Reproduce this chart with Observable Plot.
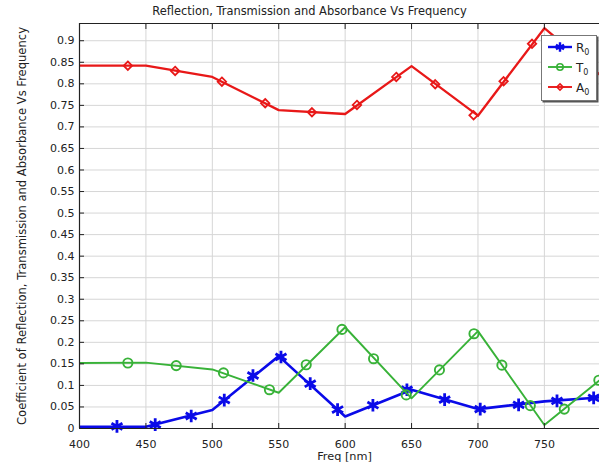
<!DOCTYPE html>
<html>
<head>
<meta charset="utf-8">
<script src="https://cdn.jsdelivr.net/npm/d3@7"></script>
<script src="https://cdn.jsdelivr.net/npm/@observablehq/plot@0.6"></script>
<style>
  html, body { margin: 0; padding: 0; background: #fff; overflow: hidden; }
  #chart { position: relative; width: 599px; height: 466px; font-family: "DejaVu Sans", sans-serif; }
  #legend { position: absolute; left: 541px; top: 35px; }
</style>
</head>
<body>
<div id="chart"></div>
<script>
// Simulated spectra, sampled every 50 nm
const freq = [400, 450, 500, 550, 600, 650, 700, 750, 800];
const reflection = [0.004, 0.004, 0.043, 0.168, 0.028, 0.090, 0.045, 0.063, 0.074];
const transmission = [0.152, 0.153, 0.137, 0.083, 0.235, 0.070, 0.226, 0.008, 0.133];
const absorbance = [0.842, 0.842, 0.816, 0.739, 0.730, 0.841, 0.726, 0.929, 0.800];

// Marker positions along each curve
const reflMarkFreq = [428.2, 457, 484.1, 509, 530.6, 551.7, 573.7, 594.3, 620.9, 646.5, 674.9, 701.7, 730.6, 759.5, 787.1];
const reflMarkVal = [0.005, 0.009, 0.029, 0.066, 0.123, 0.166, 0.104, 0.044, 0.054, 0.090, 0.067, 0.045, 0.055, 0.064, 0.071];
const transMarkFreq = [436.4, 472.8, 508.4, 543, 570.7, 597.6, 621.4, 646, 671, 697, 718, 739.4, 765, 791];
const transMarkVal = [0.152, 0.146, 0.129, 0.090, 0.148, 0.230, 0.162, 0.078, 0.136, 0.220, 0.147, 0.053, 0.045, 0.112];
const absMarkFreq = [436.4, 472, 507.2, 539.8, 575, 608.9, 638.5, 667.8, 696.7, 719.3, 740.7];
const absMarkVal = [0.842, 0.830, 0.805, 0.755, 0.734, 0.751, 0.816, 0.799, 0.727, 0.806, 0.893];

// Axes
const xDomain = [400, 791.5];
const yDomain = [0, 0.94];
const xTicks = [400, 450, 500, 550, 600, 650, 700, 750];
const yTicks = [0, 0.05, 0.1, 0.15, 0.2, 0.25, 0.3, 0.35, 0.4, 0.45, 0.5, 0.55, 0.6, 0.65, 0.7, 0.75, 0.8, 0.85, 0.9];

const title = "Reflection, Transmission and Absorbance Vs Frequency";
const xLabel = "Freq [nm]";
const yLabel = "Coefficient of Reflection, Transmission and Absorbance Vs Frequency";

const seriesNames = ["R", "T", "A"];
const colors = {R: "#0a0ae8", T: "#38b238", A: "#e81818"};

const rows = (f, v) => f.map((x, i) => ({freq: x, value: v[i]}));

const ink = "#222";

const chart = Plot.plot({
  width: 599,
  height: 466,
  marginLeft: 79,
  marginRight: 0,
  marginTop: 23,
  marginBottom: 38,
  style: {fontFamily: "DejaVu Sans, sans-serif", fontSize: "11px", color: ink, background: "#fff", overflow: "visible"},
  x: {domain: xDomain},
  y: {domain: yDomain},
  marks: [
    Plot.gridX(xTicks, {stroke: "#d6d6d6", strokeOpacity: 1}),
    Plot.gridY(yTicks, {stroke: "#d6d6d6", strokeOpacity: 1}),

    Plot.line(rows(freq, reflection), {x: "freq", y: "value", stroke: colors.R, strokeWidth: 2.6, clip: true}),
    Plot.dot(rows(reflMarkFreq, reflMarkVal), {x: "freq", y: "value", symbol: "asterisk", r: 6, stroke: colors.R, strokeWidth: 2.8}),

    Plot.line(rows(freq, transmission), {x: "freq", y: "value", stroke: colors.T, strokeWidth: 1.9, clip: true}),
    Plot.dot(rows(transMarkFreq, transMarkVal), {x: "freq", y: "value", symbol: "circle", r: 4.6, stroke: colors.T, strokeWidth: 1.9, fill: "none"}),

    Plot.line(rows(freq, absorbance), {x: "freq", y: "value", stroke: colors.A, strokeWidth: 2.3, clip: true}),
    Plot.dot(rows(absMarkFreq, absMarkVal), {x: "freq", y: "value", symbol: "diamond2", r: 3.8, stroke: colors.A, strokeWidth: 1.8, fill: "none"}),

    // frame: left, bottom and top edges
    Plot.ruleX([xDomain[0]], {stroke: ink, strokeWidth: 1.2}),
    Plot.ruleY(yDomain, {stroke: ink, strokeWidth: 1.2}),

    Plot.axisX(xTicks, {anchor: "bottom", tickSize: -5, tickPadding: 17, label: null, tickFormat: (d) => String(d), stroke: ink}),
    Plot.axisX(xTicks, {anchor: "top", tickSize: -5, label: null, tickFormat: () => "", stroke: ink}),
    Plot.axisY(yTicks, {anchor: "left", tickSize: -5, tickPadding: 10, label: null, tickFormat: (d) => String(d), stroke: ink}),

    Plot.text([title], {frameAnchor: "top", lineAnchor: "middle", dx: -30, dy: -12, fontSize: 11.45, fill: ink}),
    Plot.text([xLabel], {frameAnchor: "bottom", lineAnchor: "middle", dx: 5, dy: 28, fontSize: 11.3, fill: ink}),
    Plot.text([yLabel], {frameAnchor: "left", textAnchor: "middle", lineAnchor: "middle", rotate: -90, dx: -57, fontSize: 11.55, fill: ink})
  ]
});

const container = document.getElementById("chart");
container.appendChild(chart);

// Legend box with a line sample, marker and subscripted label per series
const symbols = {R: d3.symbolAsterisk, T: d3.symbolCircle, A: d3.symbolDiamond2};
const symbolSize = {R: Math.PI * 4.4 * 4.4, T: Math.PI * 3.2 * 3.2, A: Math.PI * 2.8 * 2.8};
const lw = 56, lh = 66;
const legend = d3.create("svg")
  .attr("id", "legend")
  .attr("width", lw + 3)
  .attr("height", lh + 3)
  .style("font-family", "DejaVu Sans, sans-serif");
legend.append("rect").attr("x", 1.5).attr("y", 1.5).attr("width", lw).attr("height", lh).attr("fill", "#555");
legend.append("rect").attr("x", 0.5).attr("y", 0.5).attr("width", lw - 1).attr("height", lh - 1)
  .attr("fill", "#fff").attr("stroke", "#777");
seriesNames.forEach((s, i) => {
  const cy = 12 + i * 20;
  const g = legend.append("g").attr("transform", `translate(0,${cy})`);
  g.append("line").attr("x1", 7).attr("x2", 31).attr("stroke", colors[s]).attr("stroke-width", s === "R" ? 2.4 : 1.9);
  g.append("path").attr("transform", "translate(19,0)")
    .attr("d", d3.symbol(symbols[s], symbolSize[s])())
    .attr("fill", "none")
    .attr("stroke", colors[s]).attr("stroke-width", s === "R" ? 2.4 : 1.6);
  const t = g.append("text").attr("x", 35).attr("y", 4.5).attr("font-size", 12).attr("fill", ink);
  t.append("tspan").text(s);
  t.append("tspan").attr("font-size", 8).attr("dy", 3).text("0");
});
container.appendChild(legend.node());
</script>
</body>
</html>
